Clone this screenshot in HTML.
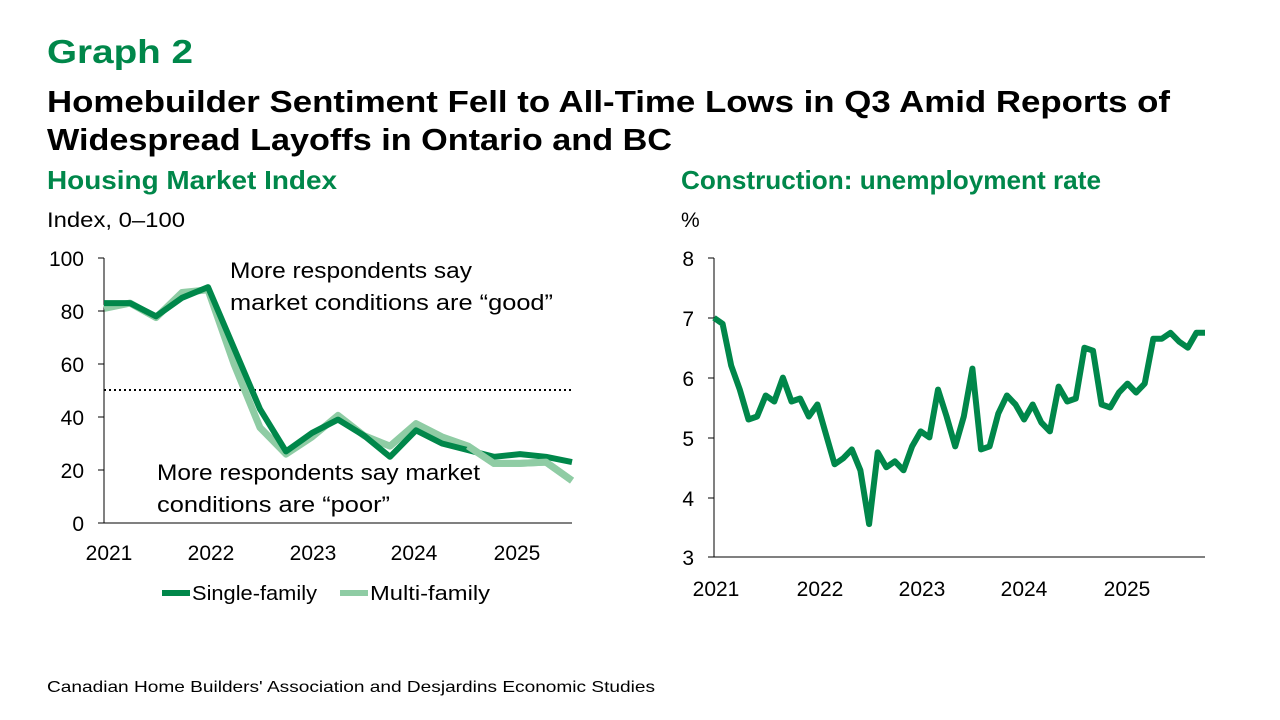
<!DOCTYPE html>
<html><head><meta charset="utf-8"><style>
html,body{margin:0;padding:0;background:#fff;}
svg{display:block;font-family:"Liberation Sans",sans-serif;}
</style></head><body>
<svg id="s" width="1280" height="720" viewBox="0 0 1280 720" xmlns="http://www.w3.org/2000/svg">
<text x="47" y="63" font-size="33" font-weight="bold" fill="#00874A" textLength="146" lengthAdjust="spacingAndGlyphs">Graph 2</text>
<text x="47" y="112" font-size="31" font-weight="bold" fill="#000" textLength="1123" lengthAdjust="spacingAndGlyphs">Homebuilder Sentiment Fell to All-Time Lows in Q3 Amid Reports of</text>
<text x="47" y="150" font-size="31" font-weight="bold" fill="#000" textLength="625" lengthAdjust="spacingAndGlyphs">Widespread Layoffs in Ontario and BC</text>
<text x="47" y="189" font-size="26" font-weight="bold" fill="#00874A" textLength="290" lengthAdjust="spacingAndGlyphs">Housing Market Index</text>
<text x="681" y="189" font-size="26" font-weight="bold" fill="#00874A" textLength="420" lengthAdjust="spacingAndGlyphs">Construction: unemployment rate</text>
<text x="47" y="227" font-size="21" fill="#000" textLength="138" lengthAdjust="spacingAndGlyphs">Index, 0–100</text>
<text x="681" y="227" font-size="21" fill="#000">%</text>

<g font-size="21" fill="#000" text-anchor="end">
<text x="84" y="266">100</text><text x="84" y="319">80</text><text x="84" y="372">60</text>
<text x="84" y="425">40</text><text x="84" y="478">20</text><text x="84" y="531">0</text>
<text x="694" y="266">8</text><text x="694" y="326">7</text><text x="694" y="386">6</text>
<text x="694" y="446">5</text><text x="694" y="506">4</text><text x="694" y="565">3</text>
</g>
<g font-size="21" fill="#000" text-anchor="middle">
<text x="109" y="560">2021</text><text x="211" y="560">2022</text><text x="313" y="560">2023</text><text x="414" y="560">2024</text><text x="517" y="560">2025</text>
<text x="716" y="596">2021</text><text x="820" y="596">2022</text><text x="922" y="596">2023</text><text x="1024" y="596">2024</text><text x="1127" y="596">2025</text>
</g>
<line x1="104" y1="258" x2="104" y2="523" stroke="#000" stroke-width="1"/>
<line x1="104" y1="523" x2="572" y2="523" stroke="#000" stroke-width="1"/>
<g stroke="#000"><line x1="98" y1="258" x2="104" y2="258"/><line x1="98" y1="311" x2="104" y2="311"/><line x1="98" y1="364" x2="104" y2="364"/><line x1="98" y1="417" x2="104" y2="417"/><line x1="98" y1="470" x2="104" y2="470"/><line x1="98" y1="523" x2="104" y2="523"/>
<line x1="708" y1="258" x2="714" y2="258"/><line x1="708" y1="318" x2="714" y2="318"/><line x1="708" y1="378" x2="714" y2="378"/><line x1="708" y1="438" x2="714" y2="438"/><line x1="708" y1="498" x2="714" y2="498"/><line x1="708" y1="557" x2="714" y2="557"/></g>
<line x1="714" y1="258" x2="714" y2="557" stroke="#000"/>
<line x1="714" y1="557" x2="1205" y2="557" stroke="#000"/>
<line x1="104" y1="390" x2="572" y2="390" stroke="#000" stroke-width="2" stroke-dasharray="2,3"/>
<polyline id="mf" fill="none" stroke="#8FCCA4" stroke-width="7" stroke-linejoin="round"/>
<polyline id="sf" fill="none" stroke="#00874A" stroke-width="6" stroke-linejoin="round"/>
<polyline id="ur" fill="none" stroke="#00874A" stroke-width="6" stroke-linejoin="round"/>
<polyline id="mf2" fill="none" stroke="#8FCCA4" stroke-width="7" stroke-linejoin="round"/>
<text x="230" y="278" font-size="22" fill="#000" textLength="242" lengthAdjust="spacingAndGlyphs">More respondents say</text>
<text x="230" y="310" font-size="22" fill="#000" textLength="323" lengthAdjust="spacingAndGlyphs">market conditions are “good”</text>
<text x="157" y="480" font-size="22" fill="#000" textLength="323" lengthAdjust="spacingAndGlyphs">More respondents say market</text>
<text x="157" y="512" font-size="22" fill="#000" textLength="233" lengthAdjust="spacingAndGlyphs">conditions are “poor”</text>
<line x1="162" y1="593" x2="190" y2="593" stroke="#00874A" stroke-width="6"/>
<text x="192" y="600" font-size="20" fill="#000" textLength="125" lengthAdjust="spacingAndGlyphs">Single-family</text>
<line x1="340" y1="593" x2="368" y2="593" stroke="#8FCCA4" stroke-width="6"/>
<text x="370" y="600" font-size="20" fill="#000" textLength="120" lengthAdjust="spacingAndGlyphs">Multi-family</text>
<text x="47" y="692" font-size="16" fill="#000" textLength="608" lengthAdjust="spacingAndGlyphs">Canadian Home Builders' Association and Desjardins Economic Studies</text>
</svg>
<script>
var sf=[83,83,78,85,89,66,43,27,34,39,33,25,35,30,27.5,25,26,25,23];
var mf=[81,83,77.5,87,88,60,36,26,32.5,40.6,33,29,37.5,32.5,29,22.5,22.5,23,16];
var ur=[7.0,6.9,6.2,5.8,5.3,5.35,5.7,5.6,6.0,5.6,5.65,5.35,5.55,5.05,4.55,4.65,4.8,4.45,3.55,4.75,4.5,4.6,4.45,4.85,5.1,5.0,5.8,5.35,4.85,5.35,6.15,4.8,4.85,5.4,5.7,5.55,5.3,5.55,5.25,5.1,5.85,5.6,5.65,6.5,6.45,5.55,5.5,5.75,5.9,5.75,5.9,6.65,6.65,6.75,6.6,6.5,6.75,6.75];
function L(a){return a.map(function(v,i){return (104+i*26)+","+(523-v*2.65).toFixed(1)}).join(" ");}
document.getElementById("mf").setAttribute("points",L(mf));
document.getElementById("sf").setAttribute("points",L(sf));
document.getElementById("ur").setAttribute("points",ur.map(function(v,i){return (714+i*491/57).toFixed(1)+","+(557-(v-3)*59.8).toFixed(1)}).join(" "));
var sub=mf.slice(14).map(function(v,i){return (104+(i+14)*26)+","+(523-v*2.65).toFixed(1)}).join(" ");
document.getElementById("mf2").setAttribute("points",sub);
</script>
</body></html>
